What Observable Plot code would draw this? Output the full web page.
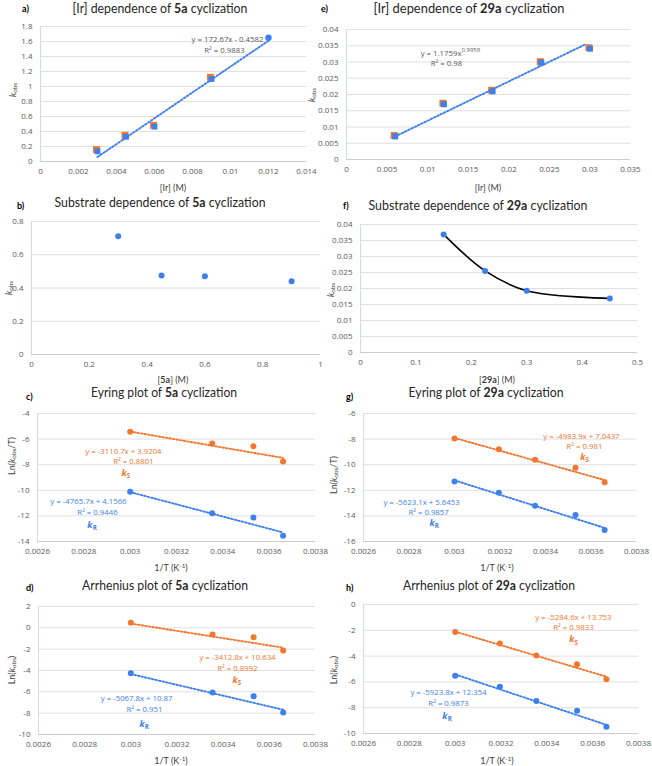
<!DOCTYPE html>
<html><head><meta charset="utf-8">
<script src="https://cdn.jsdelivr.net/npm/d3@7"></script>
<script src="https://cdn.jsdelivr.net/npm/@observablehq/plot@0.6"></script>
<style>
body{margin:0;background:#fff;}
#fig{position:relative;width:652px;height:766px;overflow:hidden;font-family:Lato,'Open Sans',sans-serif;color:#262626;}
.pn{position:absolute;}
.lab{position:absolute;white-space:nowrap;line-height:1;}
.title{font-size:14px;color:#262626;}
.lett{font-size:9px;font-weight:bold;color:#000;}
.xl{font-size:9px;color:#404040;}
.yl{font-size:9px;color:#404040;}
sub{font-size:70%;vertical-align:-0.25em;line-height:0;}
sup{font-size:70%;vertical-align:0.45em;line-height:0;}
</style>
</head><body>
<div id="fig"></div>
<script>
// ---------- data ----------
const irA = [0.003, 0.0045, 0.006, 0.009, 0.012];
const kobsA = [0.135, 0.33, 0.465, 1.10, 1.65];
const kobsA_orange = [0.145, 0.335, 0.47, 1.11];
const trendA_x = [0.003, 0.012];
const trendA_y = [0.06, 1.61];

const irE = [0.006, 0.012, 0.018, 0.024, 0.030];
const kobsE = [0.0071, 0.0170, 0.0210, 0.0298, 0.0341];
const trendE_x = [0.006, 0.0295];
const trendE_y = [0.0071, 0.0355];

const sub5a = [0.3, 0.45, 0.6, 0.9];
const kobsB = [0.712, 0.475, 0.471, 0.441];

const sub29a = [0.15, 0.225, 0.3, 0.45];
const kobsF = [0.0369, 0.0255, 0.0193, 0.0169];

const invT_5a = [0.003, 0.003354, 0.003532, 0.00366];
const eyr5a_S = [-5.43, -6.34, -6.55, -7.75];
const eyr5a_R = [-10.12, -11.79, -12.13, -13.56];
const arr5a_S = [0.47, -0.63, -0.88, -2.13];
const arr5a_R = [-4.25, -6.06, -6.41, -7.94];

const invT_29a = [0.003, 0.003195, 0.003354, 0.003532, 0.00366];
const eyr29a_S = [-7.96, -8.80, -9.61, -10.24, -11.37];
const eyr29a_R = [-11.31, -12.20, -13.20, -13.93, -15.11];
const arr29a_S = [-2.14, -3.02, -3.95, -4.63, -5.79];
const arr29a_R = [-5.53, -6.38, -7.49, -8.24, -9.48];

const trendT_x = [0.003, 0.00366];
const trendC_S = [-5.41, -7.47], trendC_R = [-10.14, -13.29];
const trendG_S = [-7.91, -11.20], trendG_R = [-11.22, -14.94];
const trendD_S = [0.40, -1.86], trendD_R = [-4.33, -7.68];
const trendH_S = [-2.10, -5.59], trendH_R = [-5.42, -9.33];

// tick values
const ticksAx = [0, 0.002, 0.004, 0.006, 0.008, 0.01, 0.012, 0.014];
const ticksAy = [0, 0.2, 0.4, 0.6, 0.8, 1, 1.2, 1.4, 1.6, 1.8];
const ticksEx = [0, 0.005, 0.01, 0.015, 0.02, 0.025, 0.03, 0.035];
const ticksEy = [0, 0.005, 0.01, 0.015, 0.02, 0.025, 0.03, 0.035, 0.04];
const ticksBx = [0, 0.2, 0.4, 0.6, 0.8, 1];
const ticksBy = [0, 0.2, 0.4, 0.6, 0.8];
const ticksFx = [0, 0.1, 0.2, 0.3, 0.4, 0.5];
const ticksFy = [0, 0.005, 0.01, 0.015, 0.02, 0.025, 0.03, 0.035, 0.04];
const ticksT = [0.0026, 0.0028, 0.003, 0.0032, 0.0034, 0.0036, 0.0038];
const ticksCy = [-14, -12, -10, -8, -6, -4];
const ticksGy = [-16, -14, -12, -10, -8, -6];
const ticksDy = [-10, -8, -6, -4, -2, 0, 2];
const ticksHy = [-10, -8, -6, -4, -2, 0];

// text
const eqA = ["y = 172.67x - 0.4582", "R² = 0.9883"];
const eqE = ["y = 1.1759x", "0.9959", "R² = 0.98"];
const eqC = ["y = -3110.7x + 3.9204", "R² = 0.8801", "y = -4765.7x + 4.1566", "R² = 0.9446"];
const eqG = ["y = -4983.9x + 7.0437", "R² = 0.981", "y = -5623.1x + 5.6453", "R² = 0.9857"];
const eqD = ["y = -3412.8x + 10.634", "R² = 0.8992", "y = -5067.8x + 10.87", "R² = 0.951"];
const eqH = ["y = -5284.6x + 13.753", "R² = 0.9833", "y = -5923.8x + 12.354", "R² = 0.9873"];

// ---------- drawing ----------
const BLUE = "#3d7fec", ORANGE = "#f2762e";
const FONT = "Lato, 'Open Sans', sans-serif";
const fig = document.getElementById("fig");
const fmt = d => String(Math.round(d * 1e7) / 1e7);

function dotted(xs, ys, color) {
  return Plot.line(xs, {x: xs, y: ys, stroke: color, strokeWidth: 1.9, strokeDasharray: "1.6,2"});
}
function txt(s, x, y, color, o = {}) {
  return Plot.text([s], {x: [x], y: [y], text: d => d, fill: color, fontSize: 7.8, fontFamily: "'Open Sans', sans-serif", ...o});
}
function ksub(letter, x, y, color) {
  return [
    Plot.text(["k"], {x: [x], y: [y], text: d => d, fill: color, fontSize: 9, fontStyle: "italic", fontWeight: "bold", textAnchor: "end", dx: 1}),
    Plot.text([letter], {x: [x], y: [y], text: d => d, fill: color, fontSize: 6.2, fontWeight: "bold", textAnchor: "start", dx: 1.2, dy: 3})
  ];
}

function panel({left, top, width, height, frame, xDomain, yDomain, xTicks, yTicks, marks}) {
  const [fx0, fy0, fx1, fy1] = frame;
  const svg = Plot.plot({
    width, height,
    marginLeft: fx0 - left, marginTop: fy0 - top,
    marginRight: left + width - fx1, marginBottom: top + height - fy1,
    x: {domain: xDomain, axis: null},
    y: {domain: yDomain, axis: null},
    style: {background: "transparent", fontFamily: "'Open Sans', sans-serif", color: "#595959", overflow: "visible"},
    marks: [
      Plot.ruleY(yTicks.slice(1), {stroke: "#e0e0e0", strokeWidth: 1}),
      Plot.ruleY([yDomain[0]], {stroke: "#cdcdcd", strokeWidth: 1}),
      Plot.ruleX([xDomain[0]], {stroke: "#d3dae2", strokeWidth: 1}),
      Plot.axisX(xTicks, {tickSize: 0, tickPadding: 7, tickFormat: fmt, label: null, fontSize: 8}),
      Plot.axisY(yTicks, {tickSize: 0, tickPadding: 8, tickFormat: fmt, label: null, fontSize: 8}),
      ...marks
    ]
  });
  const div = document.createElement("div");
  div.className = "pn";
  div.style.left = left + "px"; div.style.top = top + "px";
  div.style.width = width + "px"; div.style.height = height + "px";
  div.appendChild(svg);
  fig.appendChild(div);
}

function label(html, cls, cx, cy, opts = {}) {
  const el = document.createElement("div");
  el.className = "lab " + cls;
  el.innerHTML = html;
  el.style.left = cx + "px"; el.style.top = cy + "px";
  fig.appendChild(el);
  let sx = "";
  if (opts.fit) {
    const w = el.getBoundingClientRect().width;
    sx = " scaleX(" + (opts.fit / w).toFixed(3) + ")";
  }
  const rot = opts.rotate ? " rotate(-90deg)" : "";
  el.style.transform = (opts.anchor === "start" ? "translate(0,-50%)" : "translate(-50%,-50%)") + rot + sx;
  return el;
}

// a)
panel({left: 0, top: 0, width: 326, height: 195, frame: [40, 26, 306, 161],
  xDomain: [0, 0.014], yDomain: [0, 1.8], xTicks: ticksAx, yTicks: ticksAy,
  marks: [
    Plot.dot(irA.slice(0, 4), {x: irA.slice(0, 4), y: kobsA_orange, symbol: "square", r: 3.9, fill: ORANGE, dx: -1, dy: -1}),
    dotted(trendA_x, trendA_y, BLUE),
    Plot.dot(irA.slice(0, 4), {x: irA.slice(0, 4), y: kobsA.slice(0, 4), symbol: "square", r: 3.3, fill: BLUE}),
    Plot.dot([irA[4]], {x: [irA[4]], y: [kobsA[4]], r: 3.2, fill: BLUE}),
    txt(eqA[0], 0.00984, 1.627, "#595959"),
    txt(eqA[1], 0.00968, 1.48, "#595959")
  ]});

// e)
panel({left: 306, top: 0, width: 346, height: 195, frame: [346, 29, 630, 159],
  xDomain: [0, 0.035], yDomain: [0, 0.04], xTicks: ticksEx, yTicks: ticksEy,
  marks: [
    Plot.dot(irE, {x: irE, y: kobsE, symbol: "square", r: 3.9, fill: ORANGE, dx: -1, dy: -1}),
    dotted(trendE_x, trendE_y, BLUE),
    Plot.dot(irE, {x: irE, y: kobsE, symbol: "square", r: 3.4, fill: BLUE}),
    txt(eqE[0], 0.01417, 0.0326, "#595959", {textAnchor: "end"}),
    txt(eqE[1], 0.01417, 0.0326, "#595959", {textAnchor: "start", fontSize: 6, dy: -3.5}),
    txt(eqE[2], 0.01232, 0.0295, "#595959")
  ]});

// b)
panel({left: 0, top: 195, width: 326, height: 180, frame: [31, 221, 320, 354],
  xDomain: [0, 1], yDomain: [0, 0.8], xTicks: ticksBx, yTicks: ticksBy,
  marks: [
    Plot.dot(sub5a, {x: sub5a, y: kobsB, r: 3, fill: BLUE})
  ]});

// f)
panel({left: 306, top: 195, width: 346, height: 180, frame: [360, 224, 637, 352],
  xDomain: [0, 0.5], yDomain: [0, 0.04], xTicks: ticksFx, yTicks: ticksFy,
  marks: [
    Plot.line(sub29a, {x: sub29a, y: kobsF, stroke: "#000", strokeWidth: 1.6, curve: "catmull-rom"}),
    Plot.dot(sub29a, {x: sub29a, y: kobsF, r: 3, fill: BLUE})
  ]});

// c)
panel({left: 0, top: 375, width: 326, height: 195, frame: [37, 413, 315, 541],
  xDomain: [0.0026, 0.0038], yDomain: [-14, -4], xTicks: ticksT, yTicks: ticksCy,
  marks: [
    dotted(trendT_x, trendC_S, ORANGE),
    dotted(trendT_x, trendC_R, BLUE),
    Plot.dot(invT_5a, {x: invT_5a, y: eyr5a_S, r: 3, fill: ORANGE}),
    Plot.dot(invT_5a, {x: invT_5a, y: eyr5a_R, r: 3, fill: BLUE}),
    txt(eqC[0], 0.002971, -6.97, ORANGE),
    txt(eqC[1], 0.003014, -7.78, ORANGE),
    ...ksub("S", 0.00298, -8.65, ORANGE),
    txt(eqC[2], 0.00282, -10.85, BLUE),
    txt(eqC[3], 0.002859, -11.73, BLUE),
    ...ksub("R", 0.002833, -12.7, BLUE)
  ]});

// g)
panel({left: 306, top: 375, width: 346, height: 195, frame: [363, 413, 636, 541],
  xDomain: [0.0026, 0.0038], yDomain: [-16, -6], xTicks: ticksT, yTicks: ticksGy,
  marks: [
    dotted(trendT_x, trendG_S, ORANGE),
    dotted(trendT_x, trendG_R, BLUE),
    Plot.dot(invT_29a, {x: invT_29a, y: eyr29a_S, r: 3, fill: ORANGE}),
    Plot.dot(invT_29a, {x: invT_29a, y: eyr29a_R, r: 3, fill: BLUE}),
    txt(eqG[0], 0.003558, -7.78, ORANGE),
    txt(eqG[1], 0.003571, -8.58, ORANGE),
    ...ksub("S", 0.003571, -9.42, ORANGE),
    txt(eqG[2], 0.002855, -12.92, BLUE),
    txt(eqG[3], 0.002886, -13.73, BLUE),
    ...ksub("R", 0.002908, -14.58, BLUE)
  ]});

// d)
panel({left: 0, top: 570, width: 326, height: 196, frame: [38, 606, 315, 734],
  xDomain: [0.0026, 0.0038], yDomain: [-10, 2], xTicks: ticksT, yTicks: ticksDy,
  marks: [
    dotted(trendT_x, trendD_S, ORANGE),
    dotted(trendT_x, trendD_R, BLUE),
    Plot.dot(invT_5a, {x: invT_5a, y: arr5a_S, r: 3, fill: ORANGE}),
    Plot.dot(invT_5a, {x: invT_5a, y: arr5a_R, r: 3, fill: BLUE}),
    txt(eqD[0], 0.003462, -2.74, ORANGE),
    txt(eqD[1], 0.003462, -3.81, ORANGE),
    ...ksub("S", 0.003458, -4.9, ORANGE),
    txt(eqD[2], 0.003025, -6.58, BLUE),
    txt(eqD[3], 0.003059, -7.66, BLUE),
    ...ksub("R", 0.003055, -9.0, BLUE)
  ]});

// h)
panel({left: 306, top: 570, width: 346, height: 196, frame: [363, 604, 638, 733],
  xDomain: [0.0026, 0.0038], yDomain: [-10, 0], xTicks: ticksT, yTicks: ticksHy,
  marks: [
    dotted(trendT_x, trendH_S, ORANGE),
    dotted(trendT_x, trendH_R, BLUE),
    Plot.dot(invT_29a, {x: invT_29a, y: arr29a_S, r: 3, fill: ORANGE}),
    Plot.dot(invT_29a, {x: invT_29a, y: arr29a_R, r: 3, fill: BLUE}),
    txt(eqH[0], 0.003516, -1.0, ORANGE),
    txt(eqH[1], 0.003516, -1.82, ORANGE),
    ...ksub("S", 0.003516, -2.72, ORANGE),
    txt(eqH[2], 0.002971, -6.82, BLUE),
    txt(eqH[3], 0.002971, -7.66, BLUE),
    ...ksub("R", 0.002962, -8.62, BLUE)
  ]});

// titles
label("[Ir] dependence of <b>5a</b> cyclization", "title", 160, 8, {fit: 175});
label("[Ir] dependence of <b>29a</b> cyclization", "title", 469, 8, {fit: 191});
label("Substrate dependence of <b>5a</b> cyclization", "title", 160, 202, {fit: 211});
label("Substrate dependence of <b>29a</b> cyclization", "title", 478, 205, {fit: 219});
label("Eyring plot of <b>5a</b> cyclization", "title", 164, 392, {fit: 146});
label("Eyring plot of <b>29a</b> cyclization", "title", 486, 392, {fit: 155});
label("Arrhenius plot of <b>5a</b> cyclization", "title", 165, 585, {fit: 166});
label("Arrhenius plot of <b>29a</b> cyclization", "title", 489, 585, {fit: 172});

// panel letters
label("a)", "lett", 22, 8, {anchor: "start"});
label("e)", "lett", 321, 8, {anchor: "start"});
label("b)", "lett", 17, 205, {anchor: "start"});
label("f)", "lett", 343, 205, {anchor: "start"});
label("c)", "lett", 26, 396, {anchor: "start"});
label("g)", "lett", 346, 396, {anchor: "start"});
label("d)", "lett", 26, 587, {anchor: "start"});
label("h)", "lett", 346, 587, {anchor: "start"});

// x labels
label("[Ir] (M)", "xl", 173, 187);
label("[Ir] (M)", "xl", 488, 187);
label("[<b>5a</b>] (M)", "xl", 173, 379);
label("[<b>29a</b>] (M)", "xl", 497, 379);
label("1/T (K<sup>-1</sup>)", "xl", 171, 567);
label("1/T (K<sup>-1</sup>)", "xl", 497, 567);
label("1/T (K<sup>-1</sup>)", "xl", 171, 760);
label("1/T (K<sup>-1</sup>)", "xl", 497, 760);

// y labels
const kobs = "<i>k</i><sub>obs</sub>";
label(kobs, "yl", 12, 90, {rotate: true});
label(kobs, "yl", 311, 95, {rotate: true});
label(kobs, "yl", 8, 288, {rotate: true});
label(kobs, "yl", 330, 290, {rotate: true});
label("Ln(" + kobs + "/T)", "yl", 11, 456, {rotate: true});
label("Ln(" + kobs + "/T)", "yl", 333, 475, {rotate: true});
label("Ln(" + kobs + ")", "yl", 11, 670, {rotate: true});
label("Ln(" + kobs + ")", "yl", 333, 670, {rotate: true});
</script>
</body></html>
